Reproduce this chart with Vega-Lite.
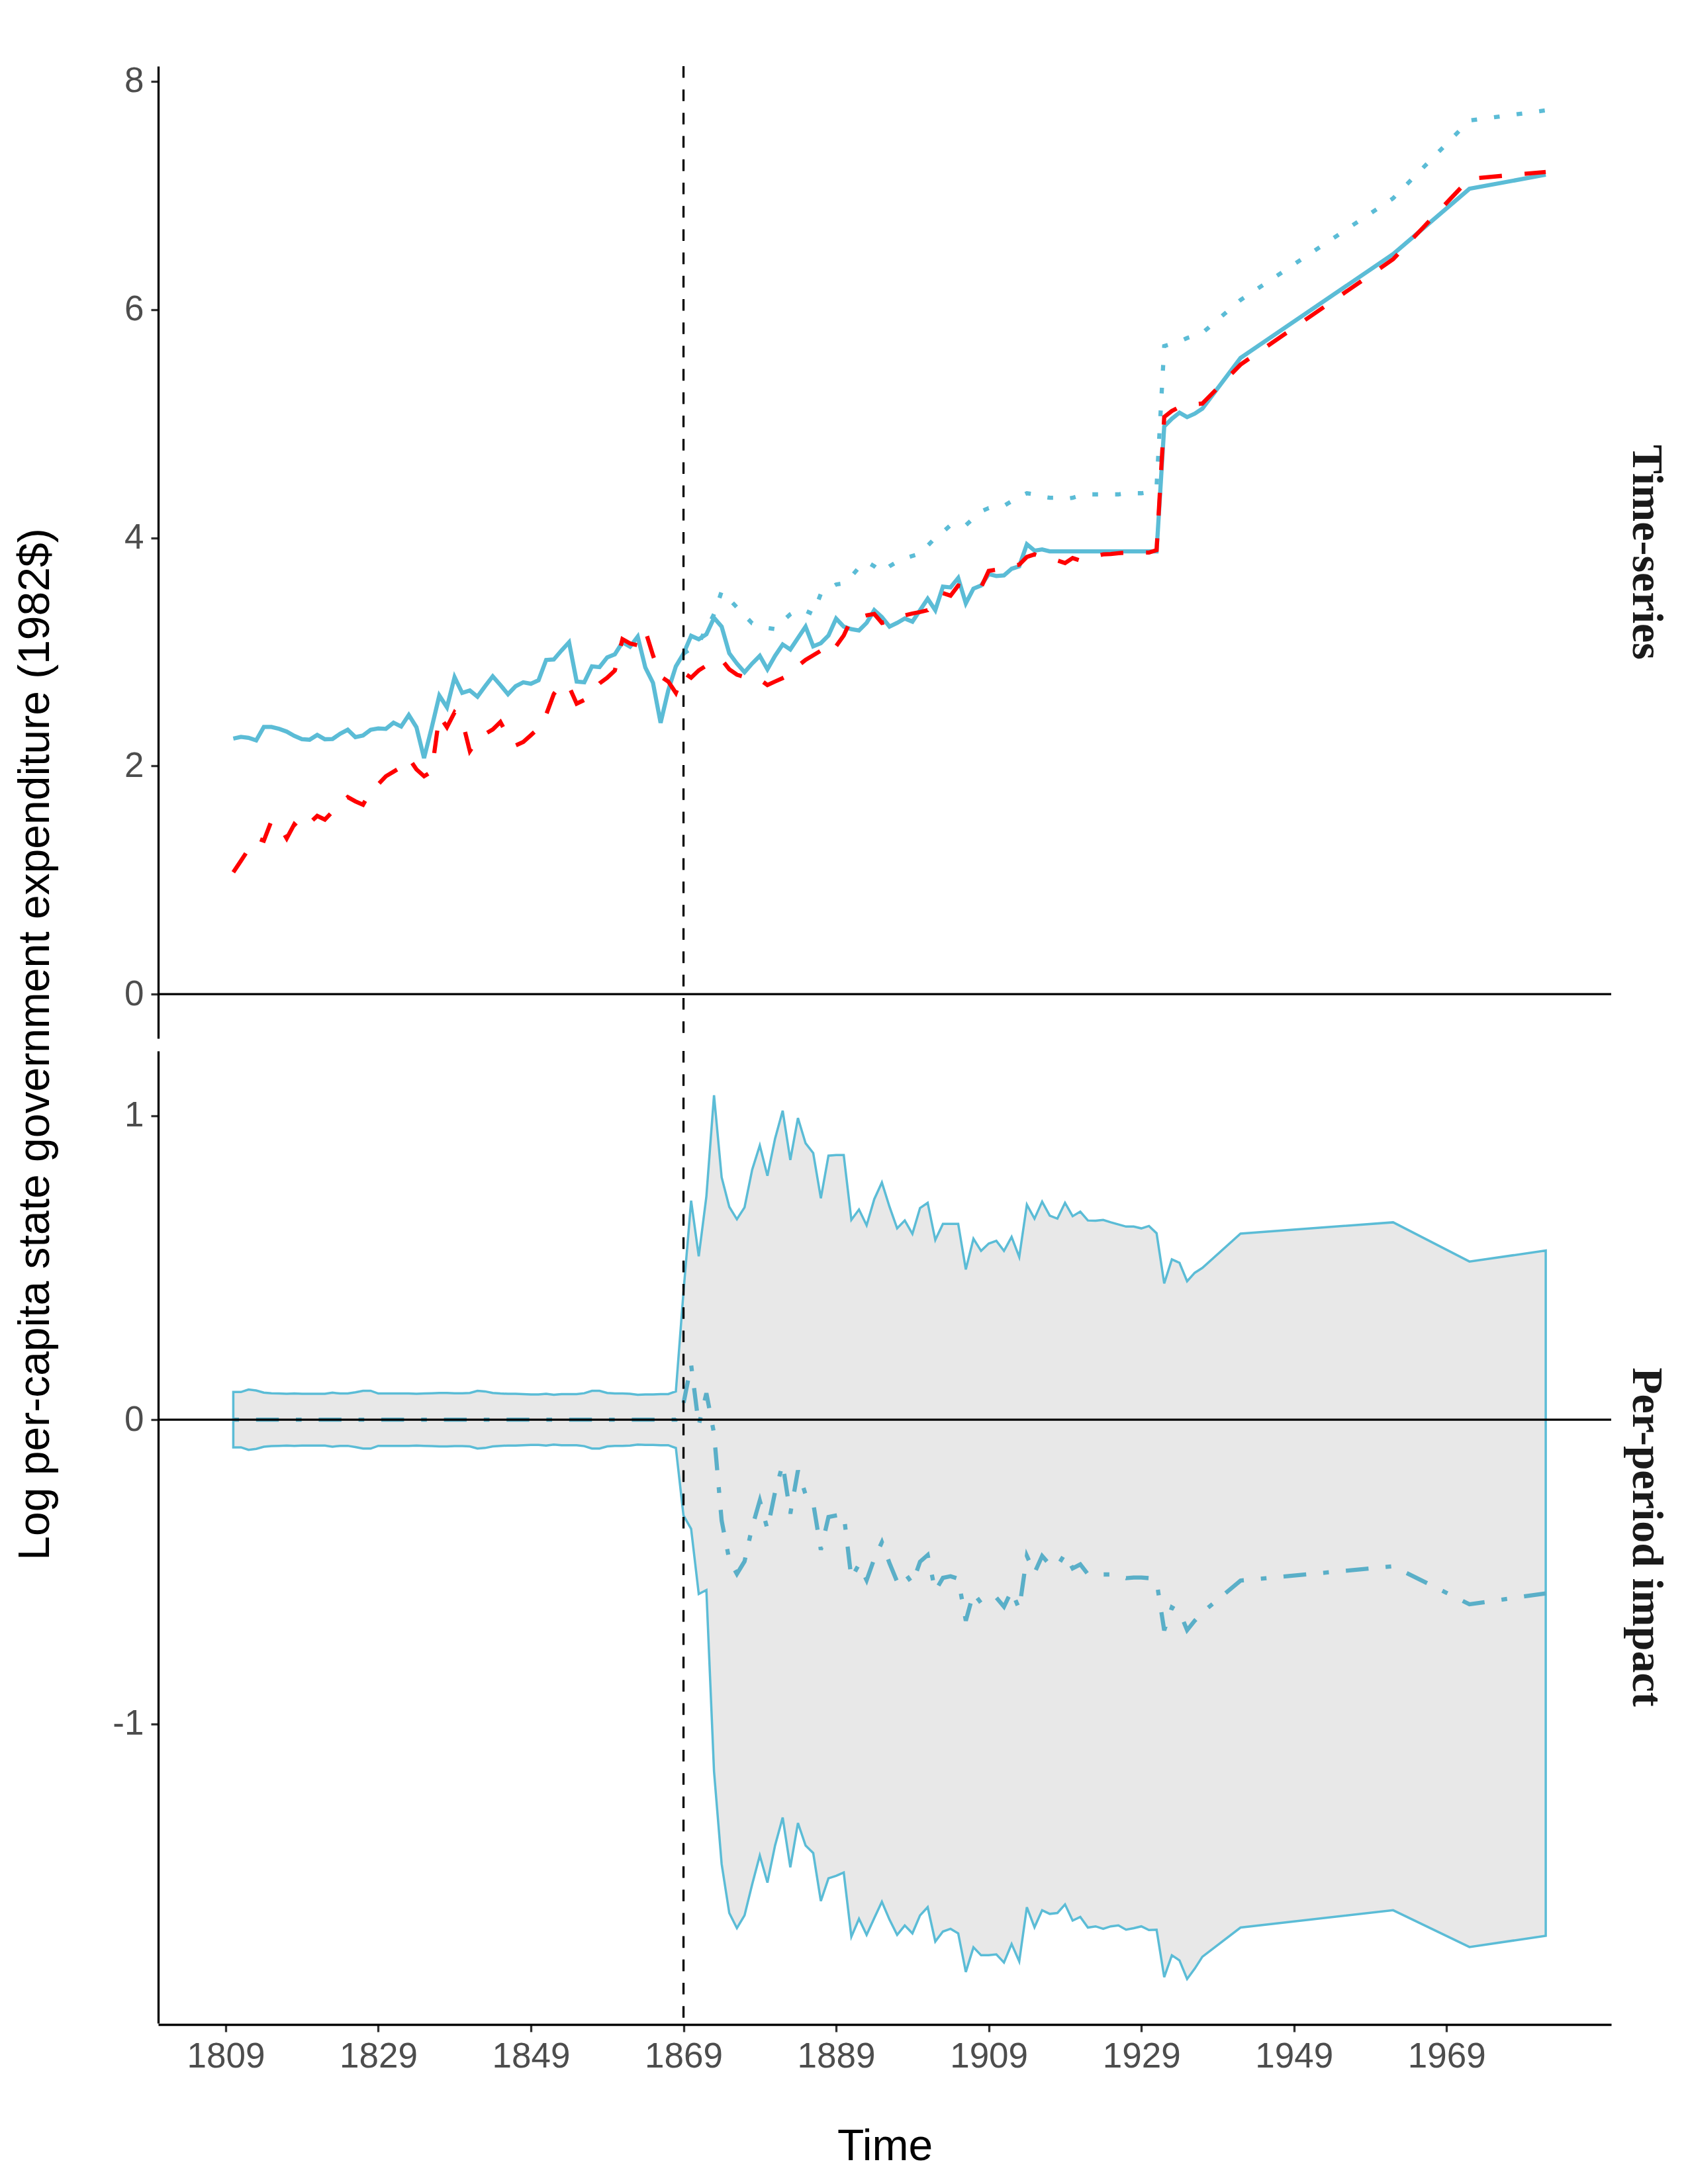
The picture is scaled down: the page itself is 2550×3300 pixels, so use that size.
{
  "$schema": "https://vega.github.io/schema/vega-lite/v6.json",
  "background": "white",
  "padding": {"left": 20, "top": 96, "right": 10, "bottom": 10},
  "data": {"values": [
    {"panel":"Time-series","year":1810,"observed":2.240,"synthetic":1.068},
    {"panel":"Time-series","year":1811,"observed":2.255,"synthetic":1.169},
    {"panel":"Time-series","year":1812,"observed":2.247,"synthetic":1.27},
    {"panel":"Time-series","year":1813,"observed":2.224,"synthetic":1.37},
    {"panel":"Time-series","year":1814,"observed":2.342,"synthetic":1.345},
    {"panel":"Time-series","year":1815,"observed":2.342,"synthetic":1.52},
    {"panel":"Time-series","year":1816,"observed":2.325,"synthetic":1.48},
    {"panel":"Time-series","year":1817,"observed":2.301,"synthetic":1.365},
    {"panel":"Time-series","year":1818,"observed":2.263,"synthetic":1.49},
    {"panel":"Time-series","year":1819,"observed":2.234,"synthetic":1.43},
    {"panel":"Time-series","year":1820,"observed":2.230,"synthetic":1.50},
    {"panel":"Time-series","year":1821,"observed":2.272,"synthetic":1.562},
    {"panel":"Time-series","year":1822,"observed":2.234,"synthetic":1.53},
    {"panel":"Time-series","year":1823,"observed":2.236,"synthetic":1.60},
    {"panel":"Time-series","year":1824,"observed":2.282,"synthetic":1.665},
    {"panel":"Time-series","year":1825,"observed":2.317,"synthetic":1.727},
    {"panel":"Time-series","year":1826,"observed":2.253,"synthetic":1.69},
    {"panel":"Time-series","year":1827,"observed":2.267,"synthetic":1.66},
    {"panel":"Time-series","year":1828,"observed":2.317,"synthetic":1.78},
    {"panel":"Time-series","year":1829,"observed":2.329,"synthetic":1.84},
    {"panel":"Time-series","year":1830,"observed":2.325,"synthetic":1.91},
    {"panel":"Time-series","year":1831,"observed":2.379,"synthetic":1.95},
    {"panel":"Time-series","year":1832,"observed":2.346,"synthetic":1.99},
    {"panel":"Time-series","year":1833,"observed":2.447,"synthetic":2.07},
    {"panel":"Time-series","year":1834,"observed":2.340,"synthetic":1.97},
    {"panel":"Time-series","year":1835,"observed":2.069,"synthetic":1.91},
    {"panel":"Time-series","year":1836,"observed":2.336,"synthetic":1.95},
    {"panel":"Time-series","year":1837,"observed":2.617,"synthetic":2.44},
    {"panel":"Time-series","year":1838,"observed":2.514,"synthetic":2.34},
    {"panel":"Time-series","year":1839,"observed":2.778,"synthetic":2.47},
    {"panel":"Time-series","year":1840,"observed":2.640,"synthetic":2.40},
    {"panel":"Time-series","year":1841,"observed":2.662,"synthetic":2.13},
    {"panel":"Time-series","year":1842,"observed":2.607,"synthetic":2.23},
    {"panel":"Time-series","year":1843,"observed":2.699,"synthetic":2.28},
    {"panel":"Time-series","year":1844,"observed":2.786,"synthetic":2.32},
    {"panel":"Time-series","year":1845,"observed":2.710,"synthetic":2.385},
    {"panel":"Time-series","year":1846,"observed":2.629,"synthetic":2.26},
    {"panel":"Time-series","year":1847,"observed":2.699,"synthetic":2.18},
    {"panel":"Time-series","year":1848,"observed":2.733,"synthetic":2.21},
    {"panel":"Time-series","year":1849,"observed":2.720,"synthetic":2.27},
    {"panel":"Time-series","year":1850,"observed":2.751,"synthetic":2.33},
    {"panel":"Time-series","year":1851,"observed":2.929,"synthetic":2.45},
    {"panel":"Time-series","year":1852,"observed":2.933,"synthetic":2.63},
    {"panel":"Time-series","year":1853,"observed":3.011,"synthetic":2.72},
    {"panel":"Time-series","year":1854,"observed":3.084,"synthetic":2.696},
    {"panel":"Time-series","year":1855,"observed":2.740,"synthetic":2.546},
    {"panel":"Time-series","year":1856,"observed":2.733,"synthetic":2.578},
    {"panel":"Time-series","year":1857,"observed":2.873,"synthetic":2.65},
    {"panel":"Time-series","year":1858,"observed":2.866,"synthetic":2.724},
    {"panel":"Time-series","year":1859,"observed":2.951,"synthetic":2.773},
    {"panel":"Time-series","year":1860,"observed":2.978,"synthetic":2.836},
    {"panel":"Time-series","year":1861,"observed":3.084,"synthetic":3.111},
    {"panel":"Time-series","year":1862,"observed":3.045,"synthetic":3.073},
    {"panel":"Time-series","year":1863,"observed":3.134,"synthetic":3.058},
    {"panel":"Time-series","year":1864,"observed":2.862,"synthetic":3.185},
    {"panel":"Time-series","year":1865,"observed":2.729,"synthetic":2.97},
    {"panel":"Time-series","year":1866,"observed":2.378,"synthetic":2.784},
    {"panel":"Time-series","year":1867,"observed":2.662,"synthetic":2.740},
    {"panel":"Time-series","year":1868,"observed":2.873,"synthetic":2.64},
    {"panel":"Time-series","year":1869,"observed":2.984,"synthetic":2.818,"counterfactual":2.984},
    {"panel":"Time-series","year":1870,"observed":3.140,"synthetic":2.773,"counterfactual":3.03},
    {"panel":"Time-series","year":1871,"observed":3.110,"synthetic":2.838,"counterfactual":3.08},
    {"panel":"Time-series","year":1872,"observed":3.154,"synthetic":2.88,"counterfactual":3.20},
    {"panel":"Time-series","year":1873,"observed":3.298,"synthetic":2.92,"counterfactual":3.33},
    {"panel":"Time-series","year":1874,"observed":3.221,"synthetic":2.932,"counterfactual":3.53},
    {"panel":"Time-series","year":1875,"observed":2.987,"synthetic":2.847,"counterfactual":3.46},
    {"panel":"Time-series","year":1876,"observed":2.898,"synthetic":2.80,"counterfactual":3.39},
    {"panel":"Time-series","year":1877,"observed":2.821,"synthetic":2.78,"counterfactual":3.32},
    {"panel":"Time-series","year":1878,"observed":2.898,"synthetic":2.772,"counterfactual":3.25},
    {"panel":"Time-series","year":1879,"observed":2.965,"synthetic":2.758,"counterfactual":3.23},
    {"panel":"Time-series","year":1880,"observed":2.847,"synthetic":2.709,"counterfactual":3.21},
    {"panel":"Time-series","year":1881,"observed":2.965,"synthetic":2.74,"counterfactual":3.20},
    {"panel":"Time-series","year":1882,"observed":3.065,"synthetic":2.77,"counterfactual":3.27},
    {"panel":"Time-series","year":1883,"observed":3.021,"synthetic":2.803,"counterfactual":3.33},
    {"panel":"Time-series","year":1884,"observed":3.121,"synthetic":2.876,"counterfactual":3.37},
    {"panel":"Time-series","year":1885,"observed":3.221,"synthetic":2.93,"counterfactual":3.36},
    {"panel":"Time-series","year":1886,"observed":3.048,"synthetic":2.97,"counterfactual":3.33},
    {"panel":"Time-series","year":1887,"observed":3.076,"synthetic":3.010,"counterfactual":3.51},
    {"panel":"Time-series","year":1888,"observed":3.143,"synthetic":2.965,"counterfactual":3.55},
    {"panel":"Time-series","year":1889,"observed":3.292,"synthetic":3.05,"counterfactual":3.59},
    {"panel":"Time-series","year":1890,"observed":3.221,"synthetic":3.143,"counterfactual":3.60},
    {"panel":"Time-series","year":1891,"observed":3.199,"synthetic":3.288,"counterfactual":3.66},
    {"panel":"Time-series","year":1892,"observed":3.188,"synthetic":3.30,"counterfactual":3.74},
    {"panel":"Time-series","year":1893,"observed":3.254,"synthetic":3.32,"counterfactual":3.79},
    {"panel":"Time-series","year":1894,"observed":3.365,"synthetic":3.332,"counterfactual":3.75},
    {"panel":"Time-series","year":1895,"observed":3.305,"synthetic":3.254,"counterfactual":3.70},
    {"panel":"Time-series","year":1896,"observed":3.221,"synthetic":3.27,"counterfactual":3.75},
    {"panel":"Time-series","year":1897,"observed":3.254,"synthetic":3.29,"counterfactual":3.79},
    {"panel":"Time-series","year":1898,"observed":3.292,"synthetic":3.32,"counterfactual":3.82},
    {"panel":"Time-series","year":1899,"observed":3.265,"synthetic":3.336,"counterfactual":3.84},
    {"panel":"Time-series","year":1900,"observed":3.365,"synthetic":3.349,"counterfactual":3.86},
    {"panel":"Time-series","year":1901,"observed":3.465,"synthetic":3.365,"counterfactual":3.93},
    {"panel":"Time-series","year":1902,"observed":3.365,"synthetic":3.44,"counterfactual":4.00},
    {"panel":"Time-series","year":1903,"observed":3.572,"synthetic":3.514,"counterfactual":4.05},
    {"panel":"Time-series","year":1904,"observed":3.565,"synthetic":3.492,"counterfactual":4.11},
    {"panel":"Time-series","year":1905,"observed":3.647,"synthetic":3.581,"counterfactual":4.11},
    {"panel":"Time-series","year":1906,"observed":3.425,"synthetic":3.57,"counterfactual":4.11},
    {"panel":"Time-series","year":1907,"observed":3.554,"synthetic":3.57,"counterfactual":4.17},
    {"panel":"Time-series","year":1908,"observed":3.581,"synthetic":3.565,"counterfactual":4.23},
    {"panel":"Time-series","year":1909,"observed":3.681,"synthetic":3.710,"counterfactual":4.26},
    {"panel":"Time-series","year":1910,"observed":3.665,"synthetic":3.72,"counterfactual":4.27},
    {"panel":"Time-series","year":1911,"observed":3.670,"synthetic":3.73,"counterfactual":4.28},
    {"panel":"Time-series","year":1912,"observed":3.728,"synthetic":3.75,"counterfactual":4.32},
    {"panel":"Time-series","year":1913,"observed":3.750,"synthetic":3.764,"counterfactual":4.36},
    {"panel":"Time-series","year":1914,"observed":3.943,"synthetic":3.832,"counterfactual":4.39},
    {"panel":"Time-series","year":1915,"observed":3.887,"synthetic":3.854,"counterfactual":4.38},
    {"panel":"Time-series","year":1916,"observed":3.898,"synthetic":3.83,"counterfactual":4.36},
    {"panel":"Time-series","year":1917,"observed":3.881,"synthetic":3.81,"counterfactual":4.35},
    {"panel":"Time-series","year":1918,"observed":3.881,"synthetic":3.800,"counterfactual":4.35},
    {"panel":"Time-series","year":1919,"observed":3.881,"synthetic":3.778,"counterfactual":4.34},
    {"panel":"Time-series","year":1920,"observed":3.881,"synthetic":3.822,"counterfactual":4.35},
    {"panel":"Time-series","year":1921,"observed":3.881,"synthetic":3.800,"counterfactual":4.37},
    {"panel":"Time-series","year":1922,"observed":3.881,"synthetic":3.82,"counterfactual":4.38},
    {"panel":"Time-series","year":1923,"observed":3.881,"synthetic":3.84,"counterfactual":4.38},
    {"panel":"Time-series","year":1924,"observed":3.881,"synthetic":3.854,"counterfactual":4.38},
    {"panel":"Time-series","year":1925,"observed":3.881,"synthetic":3.857,"counterfactual":4.38},
    {"panel":"Time-series","year":1926,"observed":3.881,"synthetic":3.865,"counterfactual":4.38},
    {"panel":"Time-series","year":1927,"observed":3.881,"synthetic":3.87,"counterfactual":4.39},
    {"panel":"Time-series","year":1928,"observed":3.881,"synthetic":3.87,"counterfactual":4.39},
    {"panel":"Time-series","year":1929,"observed":3.881,"synthetic":3.87,"counterfactual":4.39},
    {"panel":"Time-series","year":1930,"observed":3.881,"synthetic":3.87,"counterfactual":4.40},
    {"panel":"Time-series","year":1931,"observed":3.881,"synthetic":3.892,"counterfactual":4.45},
    {"panel":"Time-series","year":1932,"observed":4.975,"synthetic":5.058,"counterfactual":5.680},
    {"panel":"Time-series","year":1933,"observed":5.043,"synthetic":5.111,"counterfactual":5.70},
    {"panel":"Time-series","year":1934,"observed":5.096,"synthetic":5.146,"counterfactual":5.72},
    {"panel":"Time-series","year":1935,"observed":5.057,"synthetic":5.16,"counterfactual":5.75},
    {"panel":"Time-series","year":1936,"observed":5.087,"synthetic":5.17,"counterfactual":5.77},
    {"panel":"Time-series","year":1937,"observed":5.132,"synthetic":5.176,"counterfactual":5.794},
    {"panel":"Time-series","year":1942,"observed":5.576,"synthetic":5.517,"counterfactual":6.083},
    {"panel":"Time-series","year":1962,"observed":6.486,"synthetic":6.441,"counterfactual":6.975},
    {"panel":"Time-series","year":1972,"observed":7.058,"synthetic":7.146,"counterfactual":7.656},
    {"panel":"Time-series","year":1982,"observed":7.182,"synthetic":7.205,"counterfactual":7.745},
    {"panel":"Per-period impact","year":1810,"lo":-0.091,"hi":0.091,"impact":0},
    {"panel":"Per-period impact","year":1811,"lo":-0.091,"hi":0.091,"impact":0},
    {"panel":"Per-period impact","year":1812,"lo":-0.099,"hi":0.099,"impact":0},
    {"panel":"Per-period impact","year":1813,"lo":-0.096,"hi":0.096,"impact":0},
    {"panel":"Per-period impact","year":1814,"lo":-0.089,"hi":0.089,"impact":0},
    {"panel":"Per-period impact","year":1815,"lo":-0.087,"hi":0.087,"impact":0},
    {"panel":"Per-period impact","year":1816,"lo":-0.086,"hi":0.086,"impact":0},
    {"panel":"Per-period impact","year":1817,"lo":-0.085,"hi":0.085,"impact":0},
    {"panel":"Per-period impact","year":1818,"lo":-0.086,"hi":0.086,"impact":0},
    {"panel":"Per-period impact","year":1819,"lo":-0.085,"hi":0.085,"impact":0},
    {"panel":"Per-period impact","year":1820,"lo":-0.085,"hi":0.085,"impact":0},
    {"panel":"Per-period impact","year":1821,"lo":-0.085,"hi":0.085,"impact":0},
    {"panel":"Per-period impact","year":1822,"lo":-0.085,"hi":0.085,"impact":0},
    {"panel":"Per-period impact","year":1823,"lo":-0.089,"hi":0.089,"impact":0},
    {"panel":"Per-period impact","year":1824,"lo":-0.086,"hi":0.086,"impact":0},
    {"panel":"Per-period impact","year":1825,"lo":-0.086,"hi":0.086,"impact":0},
    {"panel":"Per-period impact","year":1826,"lo":-0.090,"hi":0.090,"impact":0},
    {"panel":"Per-period impact","year":1827,"lo":-0.095,"hi":0.095,"impact":0},
    {"panel":"Per-period impact","year":1828,"lo":-0.095,"hi":0.095,"impact":0},
    {"panel":"Per-period impact","year":1829,"lo":-0.086,"hi":0.086,"impact":0},
    {"panel":"Per-period impact","year":1830,"lo":-0.086,"hi":0.086,"impact":0},
    {"panel":"Per-period impact","year":1831,"lo":-0.086,"hi":0.086,"impact":0},
    {"panel":"Per-period impact","year":1832,"lo":-0.086,"hi":0.086,"impact":0},
    {"panel":"Per-period impact","year":1833,"lo":-0.086,"hi":0.086,"impact":0},
    {"panel":"Per-period impact","year":1834,"lo":-0.085,"hi":0.085,"impact":0},
    {"panel":"Per-period impact","year":1835,"lo":-0.086,"hi":0.086,"impact":0},
    {"panel":"Per-period impact","year":1836,"lo":-0.087,"hi":0.087,"impact":0},
    {"panel":"Per-period impact","year":1837,"lo":-0.088,"hi":0.088,"impact":0},
    {"panel":"Per-period impact","year":1838,"lo":-0.088,"hi":0.088,"impact":0},
    {"panel":"Per-period impact","year":1839,"lo":-0.087,"hi":0.087,"impact":0},
    {"panel":"Per-period impact","year":1840,"lo":-0.087,"hi":0.087,"impact":0},
    {"panel":"Per-period impact","year":1841,"lo":-0.088,"hi":0.088,"impact":0},
    {"panel":"Per-period impact","year":1842,"lo":-0.095,"hi":0.095,"impact":0},
    {"panel":"Per-period impact","year":1843,"lo":-0.093,"hi":0.093,"impact":0},
    {"panel":"Per-period impact","year":1844,"lo":-0.088,"hi":0.088,"impact":0},
    {"panel":"Per-period impact","year":1845,"lo":-0.086,"hi":0.086,"impact":0},
    {"panel":"Per-period impact","year":1846,"lo":-0.085,"hi":0.085,"impact":0},
    {"panel":"Per-period impact","year":1847,"lo":-0.085,"hi":0.085,"impact":0},
    {"panel":"Per-period impact","year":1848,"lo":-0.084,"hi":0.084,"impact":0},
    {"panel":"Per-period impact","year":1849,"lo":-0.083,"hi":0.083,"impact":0},
    {"panel":"Per-period impact","year":1850,"lo":-0.083,"hi":0.083,"impact":0},
    {"panel":"Per-period impact","year":1851,"lo":-0.085,"hi":0.085,"impact":0},
    {"panel":"Per-period impact","year":1852,"lo":-0.082,"hi":0.082,"impact":0},
    {"panel":"Per-period impact","year":1853,"lo":-0.084,"hi":0.084,"impact":0},
    {"panel":"Per-period impact","year":1854,"lo":-0.084,"hi":0.084,"impact":0},
    {"panel":"Per-period impact","year":1855,"lo":-0.084,"hi":0.084,"impact":0},
    {"panel":"Per-period impact","year":1856,"lo":-0.087,"hi":0.087,"impact":0},
    {"panel":"Per-period impact","year":1857,"lo":-0.095,"hi":0.095,"impact":0},
    {"panel":"Per-period impact","year":1858,"lo":-0.095,"hi":0.095,"impact":0},
    {"panel":"Per-period impact","year":1859,"lo":-0.088,"hi":0.088,"impact":0},
    {"panel":"Per-period impact","year":1860,"lo":-0.086,"hi":0.086,"impact":0},
    {"panel":"Per-period impact","year":1861,"lo":-0.086,"hi":0.086,"impact":0},
    {"panel":"Per-period impact","year":1862,"lo":-0.085,"hi":0.085,"impact":0},
    {"panel":"Per-period impact","year":1863,"lo":-0.082,"hi":0.082,"impact":0},
    {"panel":"Per-period impact","year":1864,"lo":-0.083,"hi":0.083,"impact":0},
    {"panel":"Per-period impact","year":1865,"lo":-0.083,"hi":0.083,"impact":0},
    {"panel":"Per-period impact","year":1866,"lo":-0.084,"hi":0.084,"impact":0},
    {"panel":"Per-period impact","year":1867,"lo":-0.084,"hi":0.084,"impact":0},
    {"panel":"Per-period impact","year":1868,"lo":-0.093,"hi":0.093,"impact":0},
    {"panel":"Per-period impact","year":1869,"lo":-0.315,"hi":0.42,"impact":0.053},
    {"panel":"Per-period impact","year":1870,"lo":-0.359,"hi":0.720,"impact":0.181},
    {"panel":"Per-period impact","year":1871,"lo":-0.573,"hi":0.537,"impact":-0.018},
    {"panel":"Per-period impact","year":1872,"lo":-0.560,"hi":0.734,"impact":0.087},
    {"panel":"Per-period impact","year":1873,"lo":-1.156,"hi":1.067,"impact":-0.045},
    {"panel":"Per-period impact","year":1874,"lo":-1.461,"hi":0.797,"impact":-0.332},
    {"panel":"Per-period impact","year":1875,"lo":-1.622,"hi":0.700,"impact":-0.461},
    {"panel":"Per-period impact","year":1876,"lo":-1.672,"hi":0.659,"impact":-0.507},
    {"panel":"Per-period impact","year":1877,"lo":-1.630,"hi":0.698,"impact":-0.466},
    {"panel":"Per-period impact","year":1878,"lo":-1.528,"hi":0.822,"impact":-0.353},
    {"panel":"Per-period impact","year":1879,"lo":-1.433,"hi":0.902,"impact":-0.266},
    {"panel":"Per-period impact","year":1880,"lo":-1.522,"hi":0.802,"impact":-0.360},
    {"panel":"Per-period impact","year":1881,"lo":-1.400,"hi":0.924,"impact":-0.238},
    {"panel":"Per-period impact","year":1882,"lo":-1.308,"hi":1.016,"impact":-0.146},
    {"panel":"Per-period impact","year":1883,"lo":-1.472,"hi":0.854,"impact":-0.309},
    {"panel":"Per-period impact","year":1884,"lo":-1.326,"hi":0.992,"impact":-0.167},
    {"panel":"Per-period impact","year":1885,"lo":-1.400,"hi":0.909,"impact":-0.246},
    {"panel":"Per-period impact","year":1886,"lo":-1.425,"hi":0.877,"impact":-0.274},
    {"panel":"Per-period impact","year":1887,"lo":-1.583,"hi":0.728,"impact":-0.428},
    {"panel":"Per-period impact","year":1888,"lo":-1.508,"hi":0.868,"impact":-0.320},
    {"panel":"Per-period impact","year":1889,"lo":-1.500,"hi":0.870,"impact":-0.315},
    {"panel":"Per-period impact","year":1890,"lo":-1.489,"hi":0.870,"impact":-0.310},
    {"panel":"Per-period impact","year":1891,"lo":-1.700,"hi":0.657,"impact":-0.522},
    {"panel":"Per-period impact","year":1892,"lo":-1.641,"hi":0.691,"impact":-0.475},
    {"panel":"Per-period impact","year":1893,"lo":-1.694,"hi":0.639,"impact":-0.528},
    {"panel":"Per-period impact","year":1894,"lo":-1.639,"hi":0.725,"impact":-0.457},
    {"panel":"Per-period impact","year":1895,"lo":-1.585,"hi":0.780,"impact":-0.403},
    {"panel":"Per-period impact","year":1896,"lo":-1.644,"hi":0.700,"impact":-0.472},
    {"panel":"Per-period impact","year":1897,"lo":-1.694,"hi":0.629,"impact":-0.533},
    {"panel":"Per-period impact","year":1898,"lo":-1.663,"hi":0.655,"impact":-0.504},
    {"panel":"Per-period impact","year":1899,"lo":-1.689,"hi":0.611,"impact":-0.539},
    {"panel":"Per-period impact","year":1900,"lo":-1.630,"hi":0.696,"impact":-0.467},
    {"panel":"Per-period impact","year":1901,"lo":-1.603,"hi":0.713,"impact":-0.445},
    {"panel":"Per-period impact","year":1902,"lo":-1.716,"hi":0.591,"impact":-0.563},
    {"panel":"Per-period impact","year":1903,"lo":-1.683,"hi":0.644,"impact":-0.520},
    {"panel":"Per-period impact","year":1904,"lo":-1.674,"hi":0.644,"impact":-0.515},
    {"panel":"Per-period impact","year":1905,"lo":-1.689,"hi":0.644,"impact":-0.523},
    {"panel":"Per-period impact","year":1906,"lo":-1.816,"hi":0.494,"impact":-0.661},
    {"panel":"Per-period impact","year":1907,"lo":-1.735,"hi":0.595,"impact":-0.570},
    {"panel":"Per-period impact","year":1908,"lo":-1.761,"hi":0.555,"impact":-0.603},
    {"panel":"Per-period impact","year":1909,"lo":-1.761,"hi":0.579,"impact":-0.591},
    {"panel":"Per-period impact","year":1910,"lo":-1.758,"hi":0.588,"impact":-0.585},
    {"panel":"Per-period impact","year":1911,"lo":-1.785,"hi":0.555,"impact":-0.615},
    {"panel":"Per-period impact","year":1912,"lo":-1.724,"hi":0.601,"impact":-0.562},
    {"panel":"Per-period impact","year":1913,"lo":-1.781,"hi":0.535,"impact":-0.623},
    {"panel":"Per-period impact","year":1914,"lo":-1.603,"hi":0.707,"impact":-0.448},
    {"panel":"Per-period impact","year":1915,"lo":-1.669,"hi":0.661,"impact":-0.504},
    {"panel":"Per-period impact","year":1916,"lo":-1.613,"hi":0.717,"impact":-0.448},
    {"panel":"Per-period impact","year":1917,"lo":-1.625,"hi":0.671,"impact":-0.477},
    {"panel":"Per-period impact","year":1918,"lo":-1.622,"hi":0.661,"impact":-0.481},
    {"panel":"Per-period impact","year":1919,"lo":-1.594,"hi":0.713,"impact":-0.441},
    {"panel":"Per-period impact","year":1920,"lo":-1.647,"hi":0.669,"impact":-0.489},
    {"panel":"Per-period impact","year":1921,"lo":-1.635,"hi":0.684,"impact":-0.476},
    {"panel":"Per-period impact","year":1922,"lo":-1.670,"hi":0.655,"impact":-0.508},
    {"panel":"Per-period impact","year":1923,"lo":-1.666,"hi":0.654,"impact":-0.506},
    {"panel":"Per-period impact","year":1924,"lo":-1.674,"hi":0.657,"impact":-0.509},
    {"panel":"Per-period impact","year":1925,"lo":-1.666,"hi":0.649,"impact":-0.509},
    {"panel":"Per-period impact","year":1926,"lo":-1.663,"hi":0.642,"impact":-0.511},
    {"panel":"Per-period impact","year":1927,"lo":-1.677,"hi":0.635,"impact":-0.521},
    {"panel":"Per-period impact","year":1928,"lo":-1.672,"hi":0.635,"impact":-0.519},
    {"panel":"Per-period impact","year":1929,"lo":-1.666,"hi":0.629,"impact":-0.519},
    {"panel":"Per-period impact","year":1930,"lo":-1.678,"hi":0.637,"impact":-0.521},
    {"panel":"Per-period impact","year":1931,"lo":-1.677,"hi":0.613,"impact":-0.532},
    {"panel":"Per-period impact","year":1932,"lo":-1.833,"hi":0.448,"impact":-0.693},
    {"panel":"Per-period impact","year":1933,"lo":-1.761,"hi":0.527,"impact":-0.617},
    {"panel":"Per-period impact","year":1934,"lo":-1.778,"hi":0.516,"impact":-0.631},
    {"panel":"Per-period impact","year":1935,"lo":-1.839,"hi":0.455,"impact":-0.692},
    {"panel":"Per-period impact","year":1936,"lo":-1.805,"hi":0.483,"impact":-0.661},
    {"panel":"Per-period impact","year":1937,"lo":-1.766,"hi":0.499,"impact":-0.634},
    {"panel":"Per-period impact","year":1942,"lo":-1.670,"hi":0.612,"impact":-0.529},
    {"panel":"Per-period impact","year":1962,"lo":-1.613,"hi":0.649,"impact":-0.482},
    {"panel":"Per-period impact","year":1972,"lo":-1.734,"hi":0.520,"impact":-0.607},
    {"panel":"Per-period impact","year":1982,"lo":-1.697,"hi":0.556,"impact":-0.571},
    {"panel":"Time-series","treatment_year":1869,"baseline":0},
    {"panel":"Per-period impact","treatment_year":1869,"baseline":0}
  ]},
  "facet": {
    "row": {
      "field": "panel",
      "type": "nominal",
      "sort": ["Time-series", "Per-period impact"],
      "title": "Log per-capita state government expenditure (1982$)",
      "header": {
        "labelOrient": "right",
        "labelAngle": 90,
        "labelFont": "Liberation Serif",
        "labelFontWeight": "bold",
        "labelFontSize": 66,
        "labelColor": "#1a1a1a",
        "labelPadding": 17,
        "titleOrient": "left",
        "titleFont": "Liberation Sans",
        "titleFontSize": 66,
        "titleFontWeight": "normal",
        "titleColor": "#000000",
        "titlePadding": 71
      }
    }
  },
  "spacing": {"row": 15},
  "spec": {
    "width": 2195,
    "height": 1469,
    "layer": [
      {
        "mark": {"type": "area", "fill": "#e8e8e8", "stroke": "#5bbcd6", "strokeWidth": 3.5, "invalid": "filter"},
        "encoding": {
          "x": {"field": "year", "type": "quantitative", "scale": {"domain": [1800.16, 1990.58], "nice": false, "zero": false}, "axis": {"values": [1809, 1829, 1849, 1869, 1889, 1909, 1929, 1949, 1969], "format": "d", "title": "Time"}},
          "y": {"field": "lo", "type": "quantitative", "title": null, "scale": {"zero": false, "nice": false, "padding": 66.8}, "axis": {"tickCount": 3, "labelExpr": "replace(datum.label, '\u2212', '-')"}},
          "y2": {"field": "hi"}
        }
      },
      {
        "mark": {"type": "line", "color": "#5aafc8", "strokeWidth": 6.3, "strokeDash": [8.6, 25.8, 34.4, 25.8], "invalid": "filter"},
        "encoding": {
          "x": {"field": "year", "type": "quantitative"},
          "y": {"field": "impact", "type": "quantitative", "title": null}
        }
      },
      {
        "mark": {"type": "line", "color": "#5bbcd6", "strokeWidth": 6.3, "strokeDash": [8.6, 25.8], "invalid": "filter"},
        "encoding": {
          "x": {"field": "year", "type": "quantitative"},
          "y": {"field": "counterfactual", "type": "quantitative", "title": null}
        }
      },
      {
        "mark": {"type": "line", "color": "#5bbcd6", "strokeWidth": 6.3, "invalid": "filter"},
        "encoding": {
          "x": {"field": "year", "type": "quantitative"},
          "y": {"field": "observed", "type": "quantitative", "title": null}
        }
      },
      {
        "mark": {"type": "line", "color": "#ff0000", "strokeWidth": 6.3, "strokeDash": [34.4, 34.4], "invalid": "filter"},
        "encoding": {
          "x": {"field": "year", "type": "quantitative"},
          "y": {"field": "synthetic", "type": "quantitative", "title": null}
        }
      },
      {
        "mark": {"type": "rule", "color": "#000000", "strokeWidth": 3.3, "invalid": "filter"},
        "encoding": {
          "y": {"field": "baseline", "type": "quantitative", "title": null}
        }
      },
      {
        "mark": {"type": "rule", "color": "#000000", "strokeWidth": 3.3, "strokeDash": [17.6, 17.6], "invalid": "filter"},
        "encoding": {
          "x": {"field": "treatment_year", "type": "quantitative"}
        }
      }
    ]
  },
  "resolve": {"scale": {"y": "independent"}},
  "config": {
    "view": {"stroke": null},
    "font": "Liberation Sans",
    "axis": {
      "grid": false,
      "domainColor": "#000000",
      "domainWidth": 3.3,
      "tickColor": "#333333",
      "tickWidth": 3.3,
      "tickSize": 11,
      "labelFont": "Liberation Sans",
      "labelFontSize": 53,
      "labelColor": "#4d4d4d",
      "labelPadding": 11,
      "labelFlush": false,
      "labelOverlap": false,
      "titleFont": "Liberation Sans",
      "titleFontSize": 66,
      "titleFontWeight": "normal",
      "titleColor": "#000000",
      "titlePadding": 77
    }
  }
}
